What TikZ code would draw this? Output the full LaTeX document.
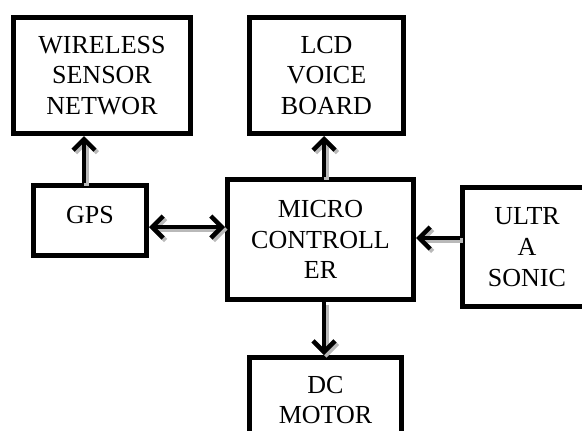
\documentclass[tikz,border=0pt]{standalone}
\usepackage{fontspec}
\setmainfont{Liberation Serif}
\usetikzlibrary{arrows.meta}

\tikzset{
    blk/.style={draw, line width=5pt, inner sep=0pt, align=center,
        font=\fontsize{26}{30.7}\selectfont},
    barb/.tip={Straight Barb[length=11pt, width=22pt]},
    link/.style={line width=4.5pt, -barb},
    shadowln/.style={link, draw=gray!55, transform canvas={shift={(2.5pt,-2.5pt)}}}
}

\begin{document}
\begin{tikzpicture}[x=1pt, y=-1pt]
        \useasboundingbox (0, 0) rectangle (582, 431);
        \clip (0, 0) rectangle (582, 431);

        \node[blk, minimum width=177pt, minimum height=116pt] (wsn) at (102, 75.5) {WIRELESS\\SENSOR\\NETWOR};
        \node[blk, minimum width=154pt, minimum height=116pt] (lcd) at (326.5, 75.5) {LCD\\VOICE\\BOARD};
        \node[blk, minimum width=113pt, minimum height=70pt, text depth=12pt] (gps) at (90, 220.5) {GPS};
        \node[blk, minimum width=186pt, minimum height=120pt] (micro) at (320.5, 239.5) {MICRO\\CONTROLL\\ER};
        \node[blk, minimum width=129pt, minimum height=119pt] (ultra) at (527, 247) {ULTR\\A\\SONIC};
        \node[blk, minimum width=152pt, minimum height=85pt] (dc) at (325.5, 400) {DC\\MOTOR};

        % arrow ends
        \coordinate (gpsup) at ([xshift=-6pt]gps.north);
        \coordinate (wsnin) at (gpsup |- wsn.south);
        \coordinate (mcup) at ([xshift=3.5pt]micro.north);
        \coordinate (lcdin) at (mcup |- lcd.south);
        \coordinate (gpsout) at ([yshift=-6.5pt]gps.east);
        \coordinate (mcleft) at (gpsout -| micro.west);
        \coordinate (usout) at ([yshift=9pt]ultra.west);
        \coordinate (mcright) at (usout -| micro.east);
        \coordinate (mcdown) at ([xshift=3.5pt]micro.south);
        \coordinate (dcin) at (mcdown |- dc.north);

        \foreach \a/\b/\t in {gpsup/wsnin/-barb, mcup/lcdin/-barb, gpsout/mcleft/barb-barb,
                usout/mcright/-barb, mcdown/dcin/-barb} {
            \draw[shadowln, \t] (\a) -- (\b);
            \draw[link, \t] (\a) -- (\b);
        }
    \end{tikzpicture}
\end{document}
